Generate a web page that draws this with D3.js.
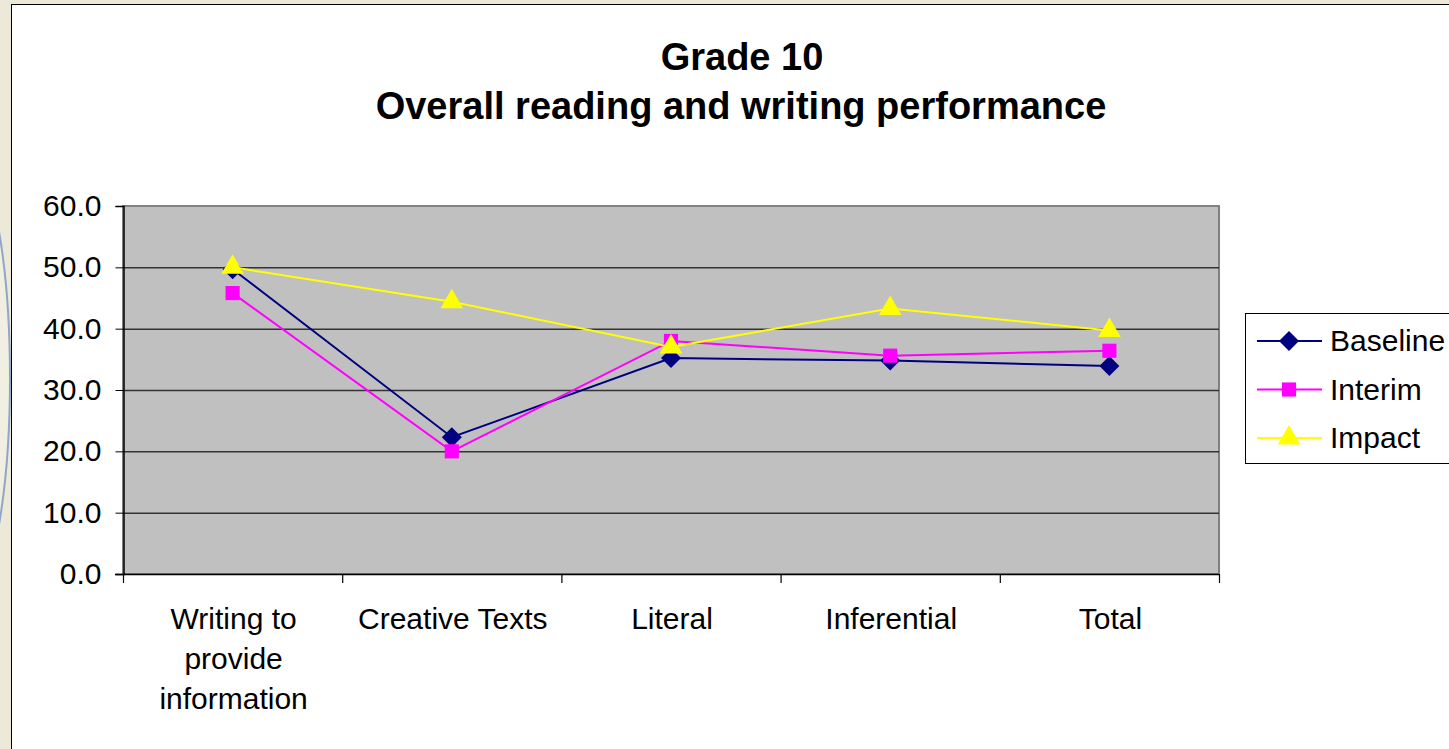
<!DOCTYPE html>
<html>
<head>
<meta charset="utf-8">
<script src="https://cdn.jsdelivr.net/npm/d3@7"></script>
<style>
  body { margin: 0; background: #ECE9D8; overflow: hidden; }
  svg { display: block; font-family: "Liberation Sans", Arial, sans-serif; }
</style>
</head>
<body>
<script>
const categories = ["Writing to provide information", "Creative Texts", "Literal", "Inferential", "Total"];
const categoryLines = [["Writing to", "provide", "information"], ["Creative Texts"], ["Literal"], ["Inferential"], ["Total"]];
const seriesNames = ["Baseline", "Interim", "Impact"];
const baseline = [49.7, 22.3, 35.2, 34.8, 33.9];
const interim = [45.8, 20.0, 38.0, 35.6, 36.4];
const impact = [50.0, 44.4, 37.0, 43.3, 39.7];
const yTicks = [0, 10, 20, 30, 40, 50, 60];

const W = 1449, H = 749;
const plot = { left: 123, top: 206, right: 1219, bottom: 574 };
const colors = { Baseline: "#000080", Interim: "#FF00FF", Impact: "#FFFF00" };

const svg = d3.select("body").append("svg")
    .attr("width", W)
    .attr("height", H);

// background arc peeking out on the left
svg.append("ellipse")
    .attr("cx", -50).attr("cy", 378)
    .attr("rx", 60).attr("ry", 253)
    .attr("fill", "#F1EEE2")
    .attr("stroke", "#8FA6C8")
    .attr("stroke-width", 2);

// chart area
svg.append("rect")
    .attr("x", 11.5).attr("y", 4.5)
    .attr("width", W).attr("height", H)
    .attr("fill", "#FFFFFF")
    .attr("stroke", "#000")
    .attr("stroke-width", 1);

const x = d3.scaleBand()
    .domain(categories)
    .range([plot.left, plot.right]);
const y = d3.scaleLinear()
    .domain([0, 60])
    .range([plot.bottom, plot.top]);

// plot area
svg.append("rect")
    .attr("x", plot.left).attr("y", plot.top)
    .attr("width", plot.right - plot.left)
    .attr("height", plot.bottom - plot.top)
    .attr("fill", "#C0C0C0")
    .attr("stroke", "#808080")
    .attr("stroke-width", 2);

// gridlines
svg.append("g")
    .selectAll("line")
    .data(yTicks.filter(d => d > 0 && d < 60))
    .enter()
    .append("line")
    .attr("x1", plot.left).attr("x2", plot.right)
    .attr("y1", d => y(d) + 0.5).attr("y2", d => y(d) + 0.5)
    .attr("stroke", "#333")
    .attr("stroke-width", 1.5);

// y axis
const yAxis = d3.axisLeft(y)
    .tickValues(yTicks)
    .tickSize(8)
    .tickPadding(14)
    .tickFormat(d3.format(".1f"));
const gy = svg.append("g")
    .attr("transform", "translate(" + (plot.left + 0.5) + ",0)")
    .call(yAxis);
gy.select(".domain").attr("stroke", "#000").attr("stroke-width", 1.5);
gy.selectAll(".tick line").attr("stroke", "#000");
gy.selectAll(".tick text")
    .attr("font-size", 30)
    .attr("font-family", "Liberation Sans, Arial, sans-serif")
    .attr("fill", "#000");

// x axis line + ticks at category boundaries
const gx = svg.append("g");
gx.append("line")
    .attr("x1", plot.left - 8).attr("x2", plot.right)
    .attr("y1", plot.bottom + 0.5).attr("y2", plot.bottom + 0.5)
    .attr("stroke", "#000").attr("stroke-width", 1.5);
const bounds = categories.map(c => x(c)).concat([x(categories[categories.length - 1]) + x.bandwidth()]);
gx.selectAll(".xt")
    .data(bounds)
    .enter()
    .append("line")
    .attr("x1", d => d + 0.5).attr("x2", d => d + 0.5)
    .attr("y1", plot.bottom).attr("y2", plot.bottom + 9)
    .attr("stroke", "#000").attr("stroke-width", 1.2);

// category labels
const labels = gx.selectAll(".lab")
    .data(categories)
    .enter()
    .append("text")
    .attr("text-anchor", "middle")
    .attr("font-size", 30)
    .attr("fill", "#000")
    .attr("transform", d => "translate(" + (x(d) + x.bandwidth() / 2 + 1) + "," + 629 + ")");
labels.each(function (d, i) {
    d3.select(this).selectAll("tspan")
        .data(categoryLines[i])
        .enter()
        .append("tspan")
        .attr("x", 0)
        .attr("dy", (t, j) => j === 0 ? 0 : 40)
        .text(t => t);
});

// series
const diamond = { draw: (ctx, size) => { const r = Math.sqrt(size / 2); ctx.moveTo(0, -r); ctx.lineTo(r, 0); ctx.lineTo(0, r); ctx.lineTo(-r, 0); ctx.closePath(); } };
const series = [
    { name: "Baseline", values: baseline, shape: diamond, size: 200 },
    { name: "Interim", values: interim, shape: d3.symbolSquare, size: 200 },
    { name: "Impact", values: impact, shape: d3.symbolTriangle, size: 220 }
];

const line = d3.line()
    .x((d, i) => x(categories[i]) + x.bandwidth() / 2)
    .y(d => y(d));

series.forEach(s => {
    svg.append("path")
        .datum(s.values)
        .attr("fill", "none")
        .attr("stroke", colors[s.name])
        .attr("stroke-width", 2)
        .attr("d", line);
    svg.append("g")
        .selectAll("path")
        .data(s.values)
        .enter()
        .append("path")
        .attr("d", d3.symbol().type(s.shape).size(s.size))
        .attr("fill", colors[s.name])
        .attr("transform", (d, i) => "translate(" + (x(categories[i]) + x.bandwidth() / 2) + "," + y(d) + ")");
});

// title
svg.append("text")
    .attr("x", 742).attr("y", 70)
    .attr("text-anchor", "middle")
    .attr("font-size", 38)
    .attr("font-weight", "bold")
    .text("Grade 10");
svg.append("text")
    .attr("x", 741).attr("y", 119)
    .attr("text-anchor", "middle")
    .attr("font-size", 38)
    .attr("font-weight", "bold")
    .text("Overall reading and writing performance");

// legend
const legend = svg.append("g").attr("id", "legend");
legend.append("rect")
    .attr("x", 1245.5).attr("y", 313.5)
    .attr("width", 260).attr("height", 150)
    .attr("fill", "#FFFFFF")
    .attr("stroke", "#000")
    .attr("stroke-width", 1);
series.forEach((s, i) => {
    const ly = 341 + i * 48.5;
    legend.append("line")
        .attr("x1", 1257).attr("x2", 1322)
        .attr("y1", ly).attr("y2", ly)
        .attr("stroke", colors[s.name])
        .attr("stroke-width", 2);
    legend.append("path")
        .attr("d", d3.symbol().type(s.shape).size(s.size))
        .attr("fill", colors[s.name])
        .attr("transform", "translate(1289," + ly + ")");
    legend.append("text")
        .attr("x", 1330).attr("y", ly + 10)
        .attr("font-size", 30)
        .attr("fill", "#000")
        .text(s.name);
});
</script>
</body>
</html>
